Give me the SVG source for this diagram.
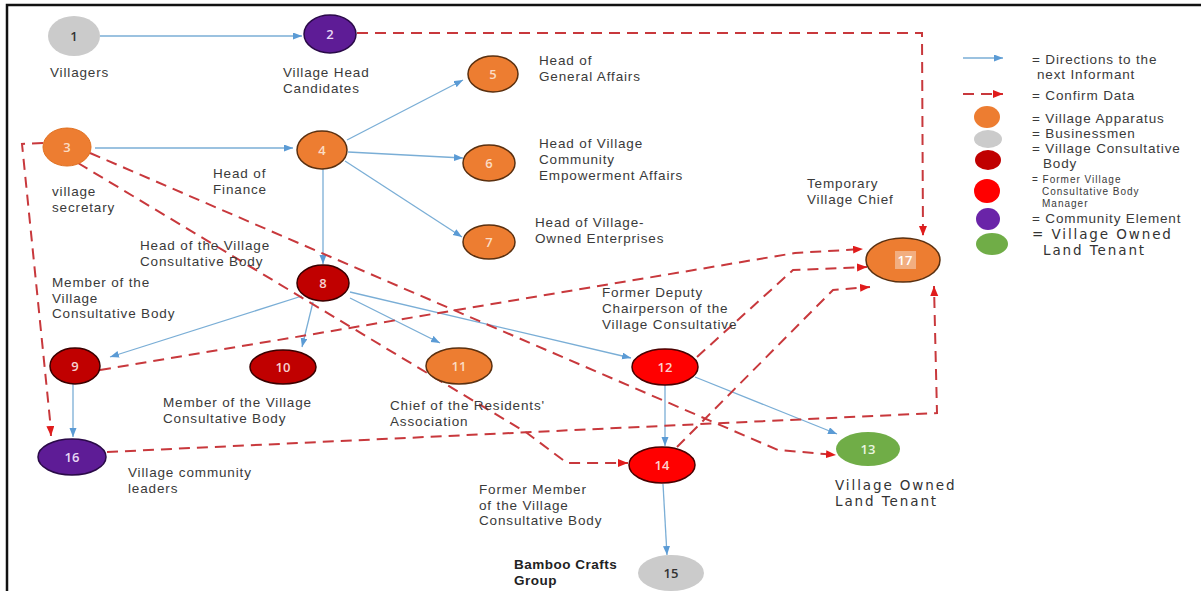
<svg xmlns="http://www.w3.org/2000/svg" width="1201" height="591" viewBox="0 0 1201 591">
<defs>
<marker id="ab" markerUnits="userSpaceOnUse" markerWidth="10" markerHeight="8" refX="9" refY="3.5" orient="auto"><path d="M0,0 L9,3.5 L0,7 z" fill="#5b9bd5"/></marker>
<marker id="ar" markerUnits="userSpaceOnUse" markerWidth="11" markerHeight="9" refX="10" refY="4" orient="auto"><path d="M0,0 L10,4 L0,8 z" fill="#e01b1b"/></marker>
<style>
.t{font-family:"Liberation Sans",Arial,sans-serif;font-size:13.5px;fill:#3a3a3a;letter-spacing:0.85px}
.b{font-weight:bold;fill:#222;letter-spacing:0.5px}
.s{font-size:10px;letter-spacing:1px}
.big{font-family:"DejaVu Sans",Verdana,sans-serif;font-size:13.5px;letter-spacing:1.9px;fill:#333}
.n{font-family:"Open Sans","Liberation Sans",sans-serif;font-size:13px;font-weight:600;text-anchor:middle}
.blue{stroke:#7aaed6;stroke-width:1.3;fill:none;marker-end:url(#ab)}
.red{stroke:#c8383c;stroke-width:2;stroke-dasharray:11 7;fill:none;marker-end:url(#ar)}
.or{fill:#ed7d31;stroke:#5a3010;stroke-width:1.5}
.gr{fill:#cbcbcb}
.dr{fill:#c00000;stroke:#3a0000;stroke-width:1.5}
.rd{fill:#ff0000;stroke:#4a0000;stroke-width:1.5}
.pu{fill:#5e1c96;stroke:#2a0a48;stroke-width:1.5}
.gn{fill:#70ad47}
</style>
</defs>
<rect width="1201" height="591" fill="#fff"/>
<path d="M7,591 L7,5 L1201,5" fill="none" stroke="#111" stroke-width="2.5"/>

<g id="connectors">
<line class="blue" x1="100" y1="36" x2="302" y2="36"/>
<line class="blue" x1="95" y1="148" x2="293" y2="148"/>
<line class="blue" x1="347" y1="140" x2="463" y2="80"/>
<line class="blue" x1="348" y1="152" x2="463" y2="158"/>
<line class="blue" x1="345" y1="161" x2="462" y2="237"/>
<line class="blue" x1="323" y1="169" x2="323" y2="264"/>
<line class="blue" x1="302" y1="296" x2="110" y2="357"/>
<line class="blue" x1="313" y1="302" x2="302" y2="347"/>
<line class="blue" x1="350" y1="298" x2="440" y2="343"/>
<line class="blue" x1="350" y1="292" x2="631" y2="358"/>
<line class="blue" x1="73" y1="384" x2="73" y2="437"/>
<line class="blue" x1="665" y1="385" x2="665" y2="446"/>
<line class="blue" x1="695" y1="377" x2="837" y2="434"/>
<line class="blue" x1="663" y1="484" x2="667" y2="555"/>

<path class="red" d="M357,33 L922,33 L923,236"/>
<path class="red" d="M43,143 L22,144 L50,420 L51,436"/>
<path class="red" d="M90,153 L778,450 L836,455"/>
<path class="red" d="M78,163 L527,433 L567,463 L628,463"/>
<path class="red" d="M100,370 L795,253 L863,249"/>
<path class="red" d="M697,357 L793,270 L867,267"/>
<path class="red" d="M677,447 L833,290 L870,287"/>
<path class="red" d="M107,452 L937,413 L934,286"/>
</g>

<g id="n1"><ellipse class="gr" cx="74" cy="36" rx="26" ry="20"/><text class="n" x="74" y="41" fill="#333">1</text></g>
<g id="n2"><ellipse class="pu" cx="330" cy="34" rx="26" ry="19"/><text class="n" x="330" y="39" fill="#e8d8f5">2</text></g>
<g id="n3"><ellipse fill="#ed7d31" stroke="#e07020" cx="67" cy="147" rx="24" ry="19"/><text class="n" x="67" y="152" fill="#fbdcc4">3</text></g>
<g id="n4"><ellipse class="or" cx="322" cy="150" rx="25" ry="19"/><text class="n" x="322" y="155" fill="#fbdcc4">4</text></g>
<g id="n5"><ellipse class="or" cx="493" cy="74" rx="25" ry="18"/><text class="n" x="493" y="79" fill="#fbdcc4">5</text></g>
<g id="n6"><ellipse class="or" cx="489" cy="163" rx="26" ry="18"/><text class="n" x="489" y="168" fill="#fbdcc4">6</text></g>
<g id="n7"><ellipse class="or" cx="489" cy="242" rx="26" ry="17"/><text class="n" x="489" y="247" fill="#fbdcc4">7</text></g>
<g id="n8"><ellipse class="dr" cx="323" cy="283" rx="26" ry="18"/><text class="n" x="323" y="288" fill="#f6d0d0">8</text></g>
<g id="n9"><ellipse class="dr" cx="75" cy="366" rx="25" ry="18"/><text class="n" x="75" y="371" fill="#f6d0d0">9</text></g>
<g id="n10"><ellipse class="dr" cx="283" cy="367" rx="33" ry="17"/><text class="n" x="283" y="372" fill="#f6d0d0">10</text></g>
<g id="n11"><ellipse class="or" cx="459" cy="366" rx="33" ry="18"/><text class="n" x="459" y="371" fill="#fbdcc4">11</text></g>
<g id="n12"><ellipse class="rd" cx="665" cy="367" rx="33" ry="18"/><text class="n" x="665" y="372" fill="#fbd0d0">12</text></g>
<g id="n13"><ellipse class="gn" cx="868" cy="449" rx="32" ry="17"/><text class="n" x="868" y="454" fill="#eaf5e0">13</text></g>
<g id="n14"><ellipse class="rd" cx="662" cy="465" rx="33" ry="18"/><text class="n" x="662" y="470" fill="#fbd0d0">14</text></g>
<g id="n15"><ellipse class="gr" cx="671" cy="573" rx="33" ry="18"/><text class="n" x="671" y="578" fill="#333">15</text></g>
<g id="n16"><ellipse class="pu" cx="72" cy="457" rx="34" ry="18"/><text class="n" x="72" y="462" fill="#e8d8f5">16</text></g>
<g id="n17"><ellipse class="or" cx="903" cy="260" rx="37" ry="22"/><rect x="895" y="251" width="21" height="18" fill="#f2ae80"/><text class="n" x="905" y="265" fill="#fff">17</text></g>

<g id="labels">
<text class="t" x="50" y="77">Villagers</text>
<text class="t" x="283" y="77">Village Head<tspan x="283" y="92.5">Candidates</tspan></text>
<text class="t" x="52" y="196">village<tspan x="52" y="211.5">secretary</tspan></text>
<text class="t" x="213" y="178">Head of<tspan x="213" y="193.5">Finance</tspan></text>
<text class="t" x="539" y="65">Head of<tspan x="539" y="80.5">General Affairs</tspan></text>
<text class="t" x="539" y="148">Head of Village<tspan x="539" y="164">Community</tspan><tspan x="539" y="180">Empowerment Affairs</tspan></text>
<text class="t" x="535" y="227">Head of Village-<tspan x="535" y="243">Owned Enterprises</tspan></text>
<text class="t" x="140" y="250">Head of the Village<tspan x="140" y="265.5">Consultative Body</tspan></text>
<text class="t" x="52" y="287">Member of the<tspan x="52" y="302.5">Village</tspan><tspan x="52" y="318">Consultative Body</tspan></text>
<text class="t" x="163" y="407">Member of the Village<tspan x="163" y="422.5">Consultative Body</tspan></text>
<text class="t" x="390" y="410">Chief of the Residents'<tspan x="390" y="425.5">Association</tspan></text>
<text class="t" x="602" y="297">Former Deputy<tspan x="602" y="313">Chairperson of the</tspan><tspan x="602" y="329">Village Consultative</tspan></text>
<text class="t" x="807" y="188">Temporary<tspan x="807" y="204">Village Chief</tspan></text>
<text class="t" x="128" y="477">Village community<tspan x="128" y="492.5">leaders</tspan></text>
<text class="t" x="479" y="494">Former Member<tspan x="479" y="509.5">of the Village</tspan><tspan x="479" y="525">Consultative Body</tspan></text>
<text class="t b" x="514" y="569">Bamboo Crafts<tspan x="514" y="584.5">Group</tspan></text>
<text class="big" x="835" y="490">Village Owned<tspan x="835" y="506">Land Tenant</tspan></text>
</g>

<g id="legend">
<line class="blue" x1="963" y1="58" x2="1003" y2="58"/>
<text class="t" x="1032" y="64">= Directions to the<tspan x="1037" y="79">next Informant</tspan></text>
<line class="red" x1="963" y1="94" x2="1003" y2="94"/>
<text class="t" x="1032" y="100">= Confirm Data</text>
<ellipse fill="#ed7d31" cx="987" cy="117" rx="13" ry="11"/>
<text class="t" x="1032" y="123">= Village Apparatus</text>
<ellipse class="gr" cx="988" cy="139" rx="14" ry="9"/>
<text class="t" x="1032" y="138">= Businessmen</text>
<ellipse fill="#c00000" cx="988" cy="160" rx="13" ry="10"/>
<text class="t" x="1032" y="153">= Village Consultative<tspan x="1043" y="168">Body</tspan></text>
<ellipse fill="#ff0000" cx="987" cy="191" rx="13" ry="12"/>
<text class="t s" x="1032" y="183">= Former Village<tspan x="1042" y="195">Consultative Body</tspan><tspan x="1042" y="207">Manager</tspan></text>
<ellipse fill="#6a24a8" cx="988" cy="219" rx="12" ry="11"/>
<text class="t" x="1032" y="223">= Community Element</text>
<ellipse class="gn" cx="992" cy="244" rx="16" ry="11"/>
<text class="big" x="1032" y="239">= Village Owned<tspan x="1043" y="255">Land Tenant</tspan></text>
</g>
</svg>
